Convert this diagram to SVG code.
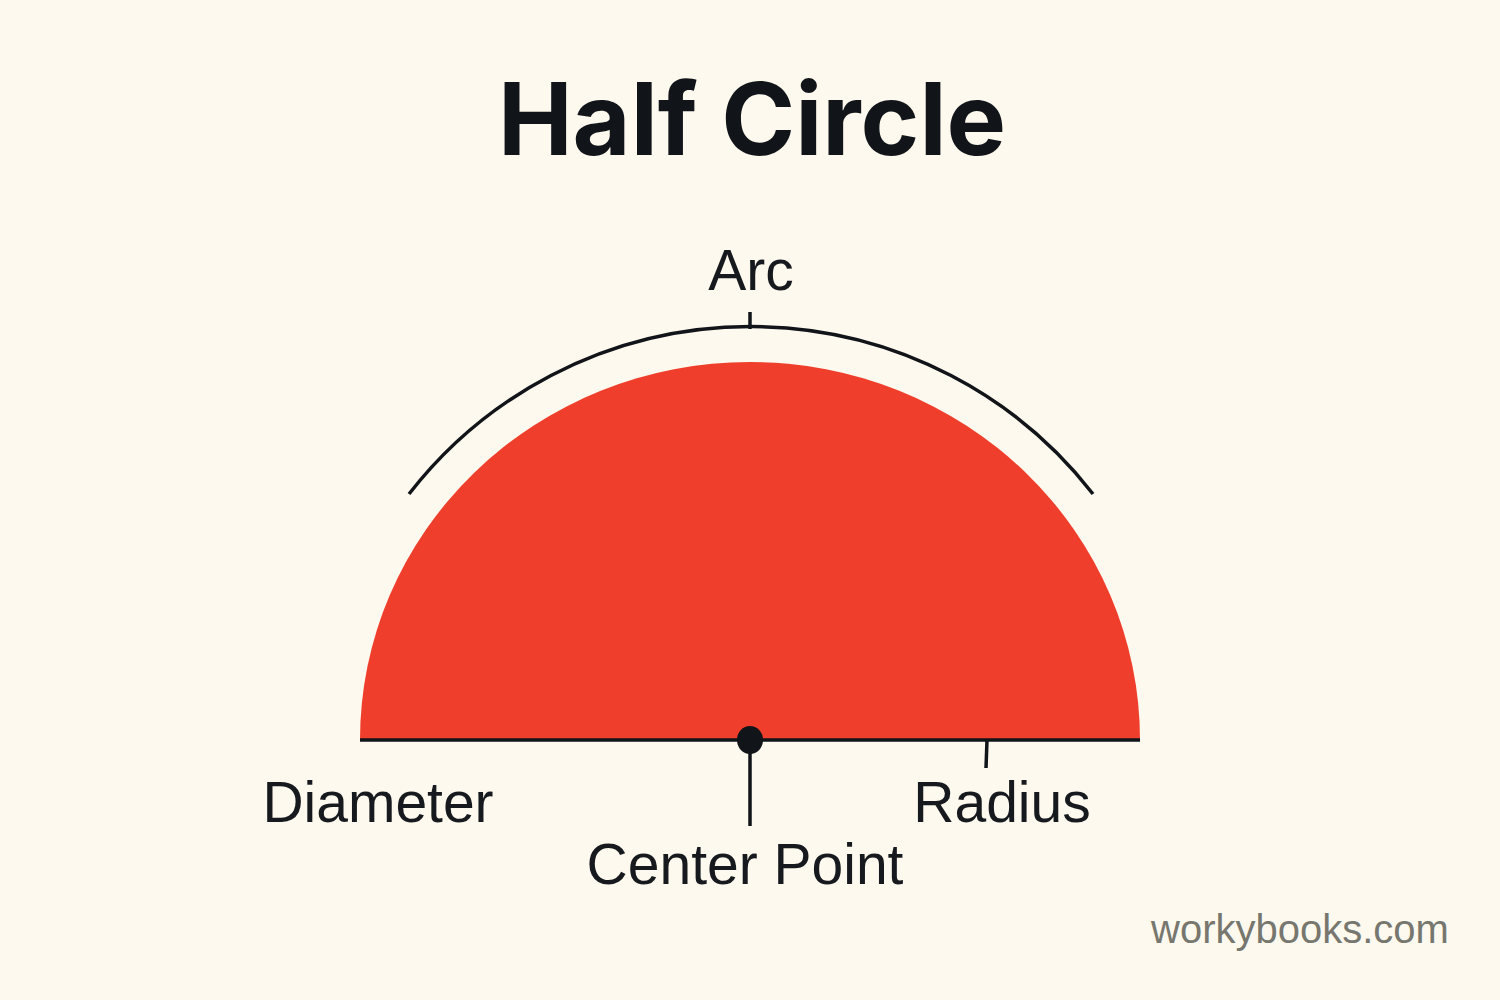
<svg xmlns="http://www.w3.org/2000/svg" width="1500" height="1000" viewBox="0 0 1500 1000">
<style>
.lbl{font-family:"Liberation Sans",Arial,sans-serif;font-size:57px;fill:#16191d;text-anchor:middle}
.ln{stroke:#111418;stroke-width:3.5;fill:none;stroke-linecap:butt}
</style>
<rect width="1500" height="1000" fill="#fdf9ee"/>
<text x="752" y="155" text-anchor="middle" font-family="Inter,'Liberation Sans',sans-serif" font-weight="700" font-size="100" fill="#111418">Half Circle</text>
<g id="half-circle">
<path d="M360 740 A390 378 0 0 1 1140 740 Z" fill="#f03e2c"/>
</g>
<g id="connectors">
<path class="ln" d="M409 494 A433 433 0 0 1 1093 494"/>
<line class="ln" x1="750" y1="312" x2="750" y2="329"/>
<line class="ln" x1="360" y1="740" x2="1140" y2="740" stroke-width="4"/>
<line class="ln" x1="750" y1="745" x2="750" y2="826"/>
<line class="ln" x1="987" y1="740" x2="986" y2="768"/>
</g>
<g id="center-point">
<ellipse cx="750" cy="740" rx="13" ry="14" fill="#111418"/>
</g>
<g id="labels">
<text class="lbl" x="751" y="290">Arc</text>
<text class="lbl" x="378" y="822">Diameter</text>
<text class="lbl" x="1002" y="822">Radius</text>
<text class="lbl" x="745" y="884">Center Point</text>
</g>
<text x="1300" y="943" text-anchor="middle" font-family="'Liberation Sans',Arial,sans-serif" font-size="40" fill="#77776f">workybooks.com</text>
</svg>
